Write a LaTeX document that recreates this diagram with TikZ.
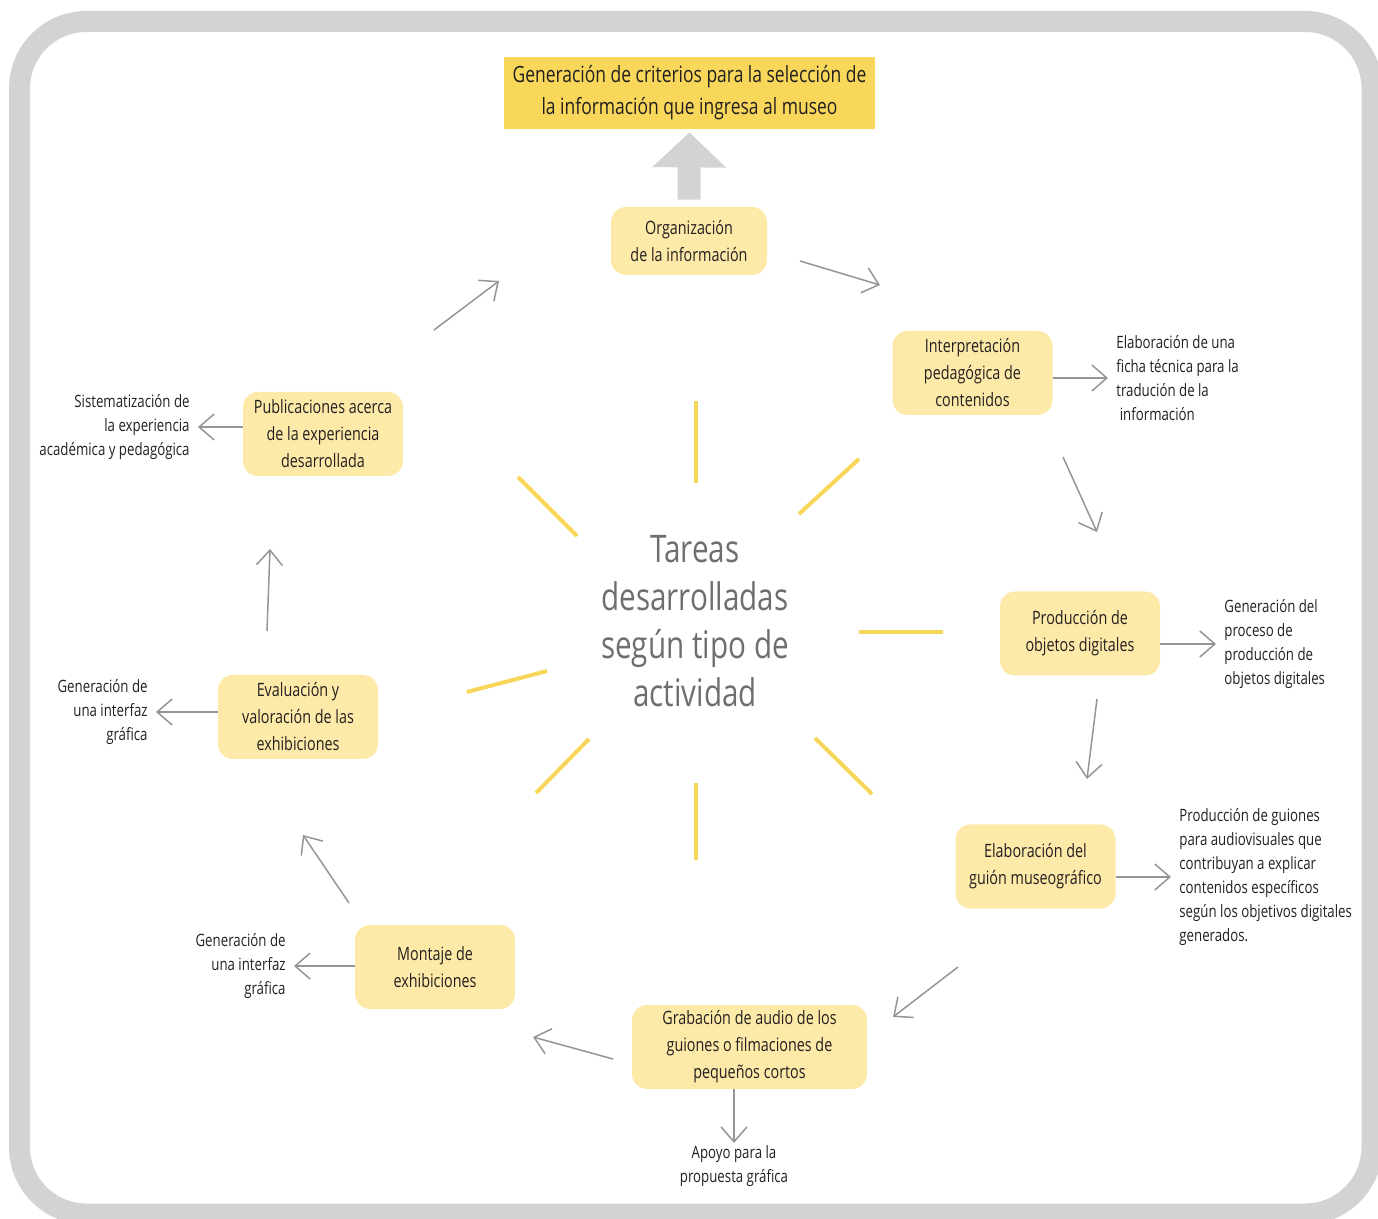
\documentclass[tikz,border=0pt]{standalone}
\usepackage{fontspec}
\setmainfont[FakeStretch=0.78]{Open Sans}
\usetikzlibrary{arrows.meta}
\definecolor{framegray}{HTML}{D1D3D4}
\definecolor{titleyellow}{HTML}{F8D75A}
\definecolor{boxyellow}{HTML}{FDE9A8}
\definecolor{raygold}{HTML}{F7D65A}
\definecolor{arrowgray}{HTML}{939598}
\definecolor{centergray}{HTML}{6D6E71}
\definecolor{ink}{HTML}{231F20}
\tikzset{
        task/.style={
          rectangle, rounded corners=7.5pt, fill=boxyellow, text=ink,
          align=center, minimum width=80pt, minimum height=42pt,
          inner sep=2pt, font=\fontsize{9.2}{13.5}\selectfont
          },
        note/.style={
          text=ink, inner xsep=4pt, inner ysep=1pt,
          font=\fontsize{8.5}{12}\selectfont
          },
        flow/.style={
          draw=arrowgray, line width=0.75pt,
          -{Straight Barb[length=7.5pt,width=13pt]}
          },
        ray/.style={draw=raygold, line width=2pt},
}

\begin{document}
\begin{tikzpicture}[x=0.5pt, y=-0.5pt]
      \useasboundingbox (0,0) rectangle (1378,1219);
      % frame
      \draw[framegray, line width=10.5pt, rounded corners=33.5pt] (19.5,21.5) rectangle (1372,1214);

      % title
      \node[rectangle, fill=titleyellow, text=ink, align=center, minimum width=185.5pt, minimum height=36pt,
            font=\fontsize{11.2}{16}\selectfont] (title) at (689.5,93)
        {Generación de criterios para la selección de\\la información que ingresa al museo};

      % center
      \node[align=center, text=centergray, font=\fontsize{19}{24}\selectfont] (tareas) at (695,621)
        {Tareas\\desarrolladas\\según tipo de\\actividad};

      % TASKS
      \node[task, minimum width=78pt, minimum height=34pt] (org) at (689,241) {Organización\\de la información};
      \node[task] (interp) at (972.5,373) {Interpretación\\pedagógica de\\contenidos};
      \node[task] (prod) at (1080,633.5) {Producción de\\objetos digitales};
      \node[task] (guion) at (1035.5,866.5) {Elaboración del\\guión museográfico};
      \node[task, minimum width=117.5pt] (grab) at (749.5,1047) {Grabación de audio de los\\guiones o filmaciones de\\pequeños cortos};
      \node[task] (mont) at (435,967) {Montaje de\\exhibiciones};
      \node[task] (eval) at (298,717) {Evaluación y\\valoración de las\\exhibiciones};
      \node[task] (pub) at (323,434) {Publicaciones acerca\\de la experiencia\\desarrollada};

      % NOTES
      \node[note, anchor=west, align=left] (interpnote) at (1108,378) {Elaboración de una\\ficha técnica para la\\tradución de la\\\ información};
      \node[note, anchor=west, align=left] (prodnote) at (1216,644) {Generación del\\proceso de\\producción de\\objetos digitales};
      \node[note, anchor=west, align=left] (guionnote) at (1171,877) {Producción de guiones\\para audiovisuales que\\contribuyan a explicar\\contenidos específicos\\según los objetivos digitales\\generados.};
      \node[note, anchor=north, align=center] (grabnote) at (734,1143) {Apoyo para la\\propuesta gráfica};
      \node[note, anchor=east, align=right] (montnote) at (294,966) {Generación de\\una interfaz\\gráfica};
      \node[note, anchor=east, align=right] (evalnote) at (156,712) {Generación de\\una interfaz\\gráfica};
      \node[note, anchor=east, align=right] (pubnote) at (198,427) {Sistematización de\\la experiencia\\académica y pedagógica};

      % big arrow to the title
      \draw[framegray, line width=11.5pt, -{Triangle[length=17.5pt,width=36pt]}]
        ([yshift=3.5pt]org.north) -- ([yshift=-1.5pt]title.south);

      % side arrows
      \draw[flow] (interpnote.west -| interp.east) -- (interpnote.west);
      \draw[flow] (prodnote.west -| prod.east) -- (prodnote.west);
      \draw[flow] (guionnote.west -| guion.east) -- (guionnote.west);
      \draw[flow] (grabnote.north |- grab.south) -- (grabnote.north);
      \draw[flow] (montnote.east -| mont.west) -- (montnote.east);
      \draw[flow] (evalnote.east -| eval.west) -- (evalnote.east);
      \draw[flow] (pubnote.east -| pub.west) -- (pubnote.east);

      % cycle arrows
      \coordinate (c1a) at (800,261);  \coordinate (c1b) at (880,285);
      \coordinate (c2a) at (1063,457); \coordinate (c2b) at (1097,532);
      \coordinate (c3a) at (1097,699); \coordinate (c3b) at (1087,779);
      \coordinate (c4a) at (958,967);  \coordinate (c4b) at (893,1017);
      \coordinate (c5a) at (613,1059); \coordinate (c5b) at (533,1037);
      \coordinate (c6a) at (349,903);  \coordinate (c6b) at (303,835);
      \coordinate (c7a) at (267,631);  \coordinate (c7b) at (270,549);
      \coordinate (c8a) at (434,330);  \coordinate (c8b) at (499,281);
      \draw[flow] (c1a) -- (c1b);
      \draw[flow] (c2a) -- (c2b);
      \draw[flow] (c3a) -- (c3b);
      \draw[flow] (c4a) -- (c4b);
      \draw[flow] (c5a) -- (c5b);
      \draw[flow] (c6a) -- (c6b);
      \draw[flow] (c7a) -- (c7b);
      \draw[flow] (c8a) -- (c8b);

      % rays
      \draw[ray] (695.7,401) -- (695.7,483);
      \draw[ray] (799,514) -- (859,459);
      \draw[ray] (859,631.7) -- (943,631.7);
      \draw[ray] (815,738) -- (872,794);
      \draw[ray] (695.7,783) -- (695.7,860);
      \draw[ray] (589,739) -- (536,793);
      \draw[ray] (547,671) -- (467,692);
      \draw[ray] (518,477) -- (577,536);
\end{tikzpicture}
\end{document}
